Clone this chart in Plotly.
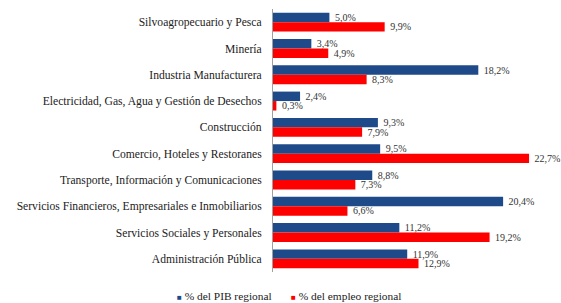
import plotly.graph_objects as go

categories = [
    "Silvoagropecuario y Pesca",
    "Minería",
    "Industria Manufacturera",
    "Electricidad, Gas, Agua y Gestión de Desechos",
    "Construcción",
    "Comercio, Hoteles y Restoranes",
    "Transporte, Información y Comunicaciones",
    "Servicios Financieros, Empresariales e Inmobiliarios",
    "Servicios Sociales y Personales",
    "Administración Pública",
]
pib = [5.0, 3.4, 18.2, 2.4, 9.3, 9.5, 8.8, 20.4, 11.2, 11.9]
empleo = [9.9, 4.9, 8.3, 0.3, 7.9, 22.7, 7.3, 6.6, 19.2, 12.9]
series_names = ["% del PIB regional", "% del empleo regional"]

BLUE = "#1F4A8A"
RED = "#FF0000"
FONT = "'Liberation Serif', 'Times New Roman', 'DejaVu Serif', serif"

def fmt(v):
    return f"{v:.1f}%".replace(".", ",")

fig = go.Figure()
for name, vals, col in [(series_names[0], pib, BLUE), (series_names[1], empleo, RED)]:
    fig.add_trace(go.Bar(
        y=categories, x=vals, orientation="h", name=name,
        marker=dict(color=col, line=dict(width=0)),
        text=[" " + fmt(v) for v in vals], textposition="outside",
        constraintext="none",
        textfont=dict(family=FONT, size=10, color="#333333"),
        cliponaxis=False, showlegend=False,
    ))

fig.update_layout(
    width=561, height=303,
    margin=dict(l=273, r=6, t=9, b=31),
    barmode="group", bargap=0.28, bargroupgap=0,
    plot_bgcolor="white", paper_bgcolor="white",
    font=dict(family=FONT, size=11.6, color="#222222"),
    xaxis=dict(range=[0, 25], visible=False, showgrid=False, zeroline=False),
    yaxis=dict(autorange="reversed", showline=True, linecolor="#A0A0A0", linewidth=1,
               ticks="", showgrid=False, ticklabelstandoff=8,
               tickfont=dict(family=FONT, size=11.6, color="#222222")),
)

y_leg = -0.09
fig.add_annotation(xref="paper", yref="paper", x=-0.347, y=y_leg, xanchor="left", yanchor="middle",
                   showarrow=False,
                   text=f"<span style='color:{BLUE};font-size:8px'>■</span> " + series_names[0],
                   font=dict(family=FONT, size=11.4, color="#222222"))
fig.add_annotation(xref="paper", yref="paper", x=0.058, y=y_leg, xanchor="left", yanchor="middle",
                   showarrow=False,
                   text=f"<span style='color:{RED};font-size:8px'>■</span> " + series_names[1],
                   font=dict(family=FONT, size=11.4, color="#222222"))

fig.write_html("out.html", config={"displayModeBar": False},
               post_script="document.body.style.margin='0px';")
